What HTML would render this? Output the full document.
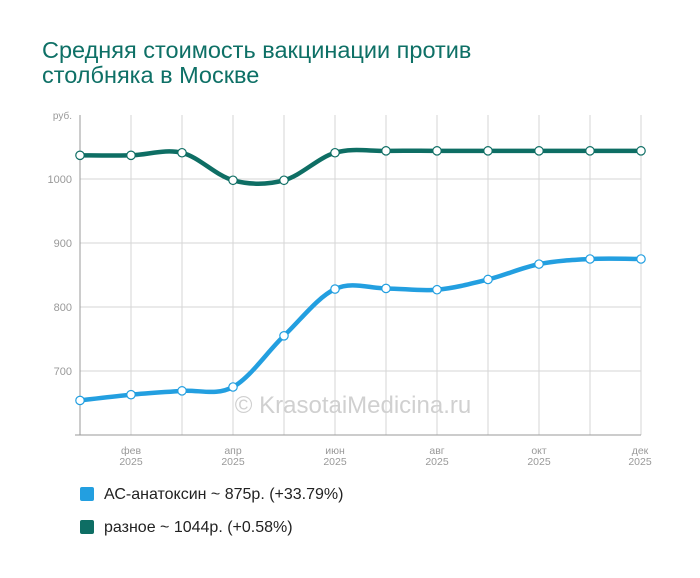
<!DOCTYPE html>
<html><head><meta charset="utf-8"><style>
body{margin:0;background:#fff;width:700px;height:578px;overflow:hidden;font-family:"Liberation Sans",sans-serif}
.t{position:absolute;left:42px;top:38px;font-size:23.5px;line-height:25px;color:#0e7066}
.lg{position:absolute;left:80px;font-size:16px;color:#222}
.lg i{display:inline-block;width:14px;height:14px;border-radius:2px;vertical-align:-2px;margin-right:10px}
</style></head><body>
<div class="t">Средняя стоимость вакцинации против<br>столбняка в Москве</div>
<svg id="s" width="700" height="578" style="position:absolute;left:0;top:0" font-family="Liberation Sans, sans-serif">
<g stroke="#d6d6d6" stroke-width="1" id="grid"></g>
<line x1="80" y1="115" x2="80" y2="435" stroke="#999"/>
<line x1="75" y1="435" x2="641" y2="435" stroke="#999"/>
<text x="72" y="119" font-size="10" fill="#999" text-anchor="end">руб.</text>
<g font-size="11" fill="#999" text-anchor="end">
<text x="72" y="183">1000</text><text x="72" y="247">900</text><text x="72" y="311">800</text><text x="72" y="375">700</text></g>
<g font-size="10.5" fill="#999" text-anchor="middle">
<text x="131" y="454">фев</text><text x="131" y="465">2025</text>
<text x="233" y="454">апр</text><text x="233" y="465">2025</text>
<text x="335" y="454">июн</text><text x="335" y="465">2025</text>
<text x="437" y="454">авг</text><text x="437" y="465">2025</text>
<text x="539" y="454">окт</text><text x="539" y="465">2025</text>
<text x="640" y="454">дек</text><text x="640" y="465">2025</text></g>
<text x="353" y="413" font-size="24" fill="#d0d0d0" text-anchor="middle">© KrasotaiMedicina.ru</text>
<g id="ser"></g>
</svg>
<div class="lg" style="top:486px"><i style="background:#239fe0"></i>АС-анатоксин ~ 875р. (+33.79%)</div>
<div class="lg" style="top:519px"><i style="background:#0e6e64"></i>разное ~ 1044р. (+0.58%)</div>
<script>
var xs=[],i;for(i=0;i<12;i++)xs.push(80+i*51);
var g=document.getElementById('grid'),h='';
xs.forEach(function(x,k){if(k>0)h+='<line x1="'+x+'" y1="115" x2="'+x+'" y2="435"/>'});
[179,243,307,371].forEach(function(y){h+='<line x1="80" y1="'+y+'" x2="641" y2="'+y+'"/>'});
g.innerHTML=h;
function Y(v){return 179+(1000-v)*0.64}
function path(p){var d='M'+p[0][0]+','+p[0][1];for(var i=0;i<p.length-1;i++){var a=p[i-1]||p[i],b=p[i],c=p[i+1],e=p[i+2]||c;
d+=' C'+(b[0]+(c[0]-a[0])/6)+','+(b[1]+(c[1]-a[1])/6)+' '+(c[0]-(e[0]-b[0])/6)+','+(c[1]-(e[1]-b[1])/6)+' '+c[0]+','+c[1];}return d}
var S=[[[1037,1037,1041,998,998,1041,1044,1044,1044,1044,1044,1044],'#0e6e64'],
[[654,663,669,675,755,828,829,827,843,867,875,875],'#239fe0']];
var o='';S.forEach(function(s){var p=s[0].map(function(v,k){return[xs[k],Y(v)]});
o+='<path d="'+path(p)+'" fill="none" stroke="'+s[1]+'" stroke-width="4.5"/>';
p.forEach(function(q){o+='<circle cx="'+q[0]+'" cy="'+q[1]+'" r="4.2" fill="#fff" stroke="'+s[1]+'" stroke-width="1.2"/>'});});
document.getElementById('ser').innerHTML=o;
</script>
</body></html>
